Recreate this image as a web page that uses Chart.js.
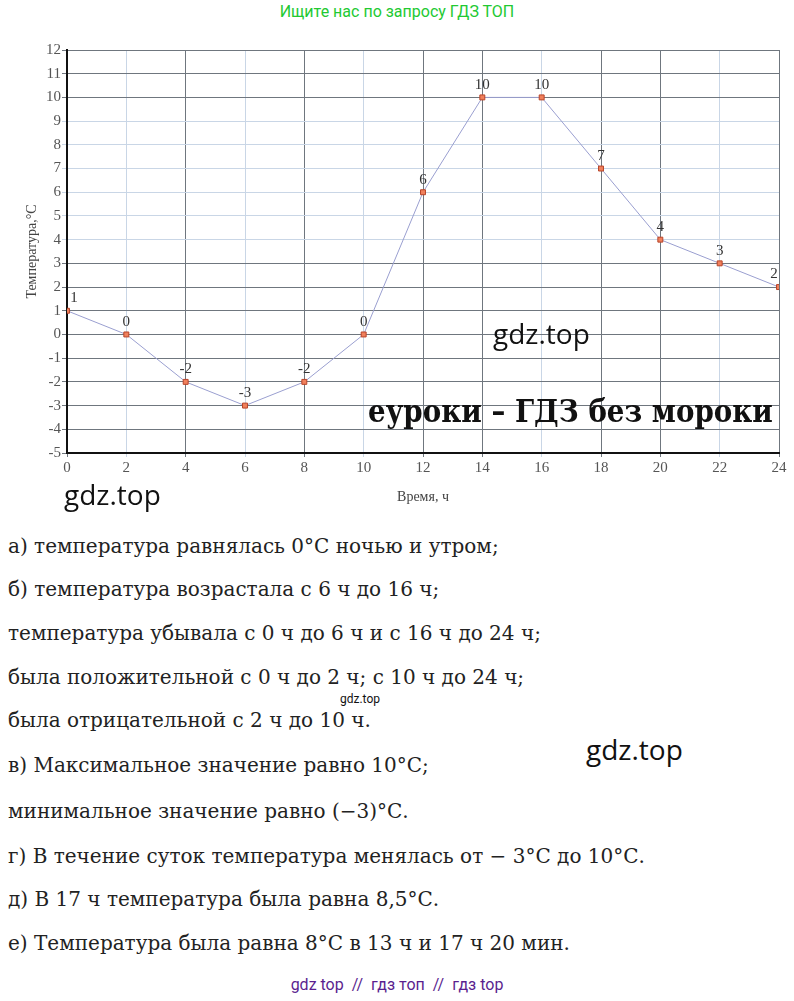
<!DOCTYPE html>
<html>
<head>
<meta charset="utf-8">
<script src="https://cdn.jsdelivr.net/npm/chart.js@4"></script>
<style>
  body { margin: 0; width: 794px; height: 1001px; background: #fff; position: relative; overflow: hidden; }
  .abs { position: absolute; white-space: nowrap; }
  #top { left: 0; width: 794px; top: 2px; text-align: center; color: #22c932; font: 16px Roboto, sans-serif; }
  .wm { font: 28px "Open Sans", Roboto, sans-serif; color: #111; }
  #brand { left: 368px; top: 393px; font: bold 31px "DejaVu Serif", serif; color: #111; transform-origin: 0 0; }
  #wrap { position: absolute; left: 0; top: 40px; width: 794px; height: 470px; }
  .line { left: 8px; font: 20px "DejaVu Serif", serif; color: #222; }
  #foot { left: 0; width: 794px; top: 975px; text-align: center; color: #5b1f8f; font: 16px Roboto, sans-serif; }
</style>
</head>
<body>
<div class="abs" id="top">Ищите нас по запросу ГДЗ ТОП</div>
<div id="wrap"><canvas id="chart"></canvas></div>
<div class="abs wm" style="left:493px; top:314px;">gdz.top</div>
<div class="abs" id="brand">еуроки – ГДЗ без мороки</div>
<div class="abs wm" style="left:64px; top:475px;">gdz.top</div>

<div class="abs line" style="top:534px;">а) температура равнялась 0°С ночью и утром;</div>
<div class="abs line" style="top:577px;">б) температура возрастала с 6 ч до 16 ч;</div>
<div class="abs line" style="top:621px;">температура убывала с 0 ч до 6 ч и с 16 ч до 24 ч;</div>
<div class="abs line" style="top:665px;">была положительной с 0 ч до 2 ч; с 10 ч до 24 ч;</div>
<div class="abs" style="left:340px; top:692px; font:12px Roboto, sans-serif; color:#111;">gdz.top</div>
<div class="abs line" style="top:708px;">была отрицательной с 2 ч до 10 ч.</div>
<div class="abs wm" style="left:586px; top:730px;">gdz.top</div>
<div class="abs line" style="top:753px;">в) Максимальное значение равно 10°С;</div>
<div class="abs line" style="top:799px;">минимальное значение равно (−3)°С.</div>
<div class="abs line" style="top:844px;">г) В течение суток температура менялась от − 3°С до 10°С.</div>
<div class="abs line" style="top:887px;">д) В 17 ч температура была равна 8,5°С.</div>
<div class="abs line" style="top:931px;">е) Температура была равна 8°С в 13 ч и 17 ч 20 мин.</div>
<div class="abs" id="foot">gdz top &nbsp;//&nbsp; гдз топ &nbsp;//&nbsp; гдз top</div>

<script>
// values
const hours = [0, 2, 4, 6, 8, 10, 12, 14, 16, 18, 20, 22, 24];
const temps = [1, 0, -2, -3, -2, 0, 6, 10, 10, 7, 4, 3, 2];
const yTicks = [12, 11, 10, 9, 8, 7, 6, 5, 4, 3, 2, 1, 0, -1, -2, -3, -4, -5];

// some grid lines in the scan are pale blue, the rest dark grey
const lightX = [2, 6, 10, 16, 22];
const lightY = [9, 8, 7, 6, 5, 4];
const dark = '#6f767e';
const light = '#c9d6e6';
const tickFont = { family: '"Liberation Serif", serif', size: 15 };

// squeeze the bold banner to the width it has in the picture
const brand = document.getElementById('brand');
brand.style.transform = 'scaleX(' + (405 / brand.offsetWidth) + ')';

// draws the value above every point
const valueLabels = {
    id: 'valueLabels',
    afterDatasetsDraw(chart) {
        const c = chart.ctx;
        const meta = chart.getDatasetMeta(0);
        c.save();
        c.font = '15px "Liberation Serif", serif';
        c.fillStyle = '#333';
        c.textAlign = 'center';
        c.textBaseline = 'bottom';
        meta.data.forEach((pt, i) => {
            let dx = 0;
            if (i === 0) dx = 7;
            if (i === meta.data.length - 1) dx = -5;
            c.fillText(String(temps[i]), pt.x + dx, pt.y - 5);
        });
        c.restore();
    }
};

const ctx = document.getElementById('chart').getContext('2d');
const myChart = new Chart(ctx, {
    type: 'line',
    data: {
        datasets: [{
            data: hours.map((h, i) => ({ x: h, y: temps[i] })),
            borderColor: '#9a9fd0',
            borderWidth: 1,
            pointStyle: 'rect',
            pointRadius: 3.5,
            pointBackgroundColor: '#f0805c',
            pointBorderColor: '#b8452a',
            pointBorderWidth: 1,
            tension: 0
        }]
    },
    plugins: [valueLabels],
    options: {
        responsive: true,
        maintainAspectRatio: false,
        animation: false,
        layout: { padding: { top: 10, right: 15, left: 24, bottom: 0 } },
        plugins: { legend: { display: false }, tooltip: { enabled: false } },
        scales: {
            x: {
                type: 'linear',
                min: 0,
                max: 24,
                afterFit: s => { s.height = 57; },
                afterBuildTicks: s => { s.ticks = hours.map(v => ({ value: v })); },
                ticks: { color: '#555', font: tickFont, padding: 2, maxRotation: 0 },
                grid: {
                    color: c => lightX.includes(c.tick && c.tick.value) ? light : dark,
                    lineWidth: 1,
                    tickLength: 4
                },
                border: { color: '#111', width: 2 },
                title: { display: true, text: 'Время, ч', color: '#444', font: { family: '"Liberation Serif", serif', size: 14 }, padding: { top: 0 } }
            },
            y: {
                min: -5,
                max: 12,
                afterFit: s => { s.width = 43; },
                afterBuildTicks: s => { s.ticks = yTicks.map(v => ({ value: v })); },
                ticks: { color: '#555', font: tickFont, padding: 1 },
                grid: {
                    color: c => lightY.includes(c.tick && c.tick.value) ? light : dark,
                    lineWidth: 1,
                    tickLength: 5
                },
                border: { color: '#111', width: 2 },
                title: { display: true, text: 'Температура,°С', color: '#444', font: { family: '"Liberation Serif", serif', size: 14 }, padding: 0 }
            }
        }
    }
});
</script>
</body>
</html>
